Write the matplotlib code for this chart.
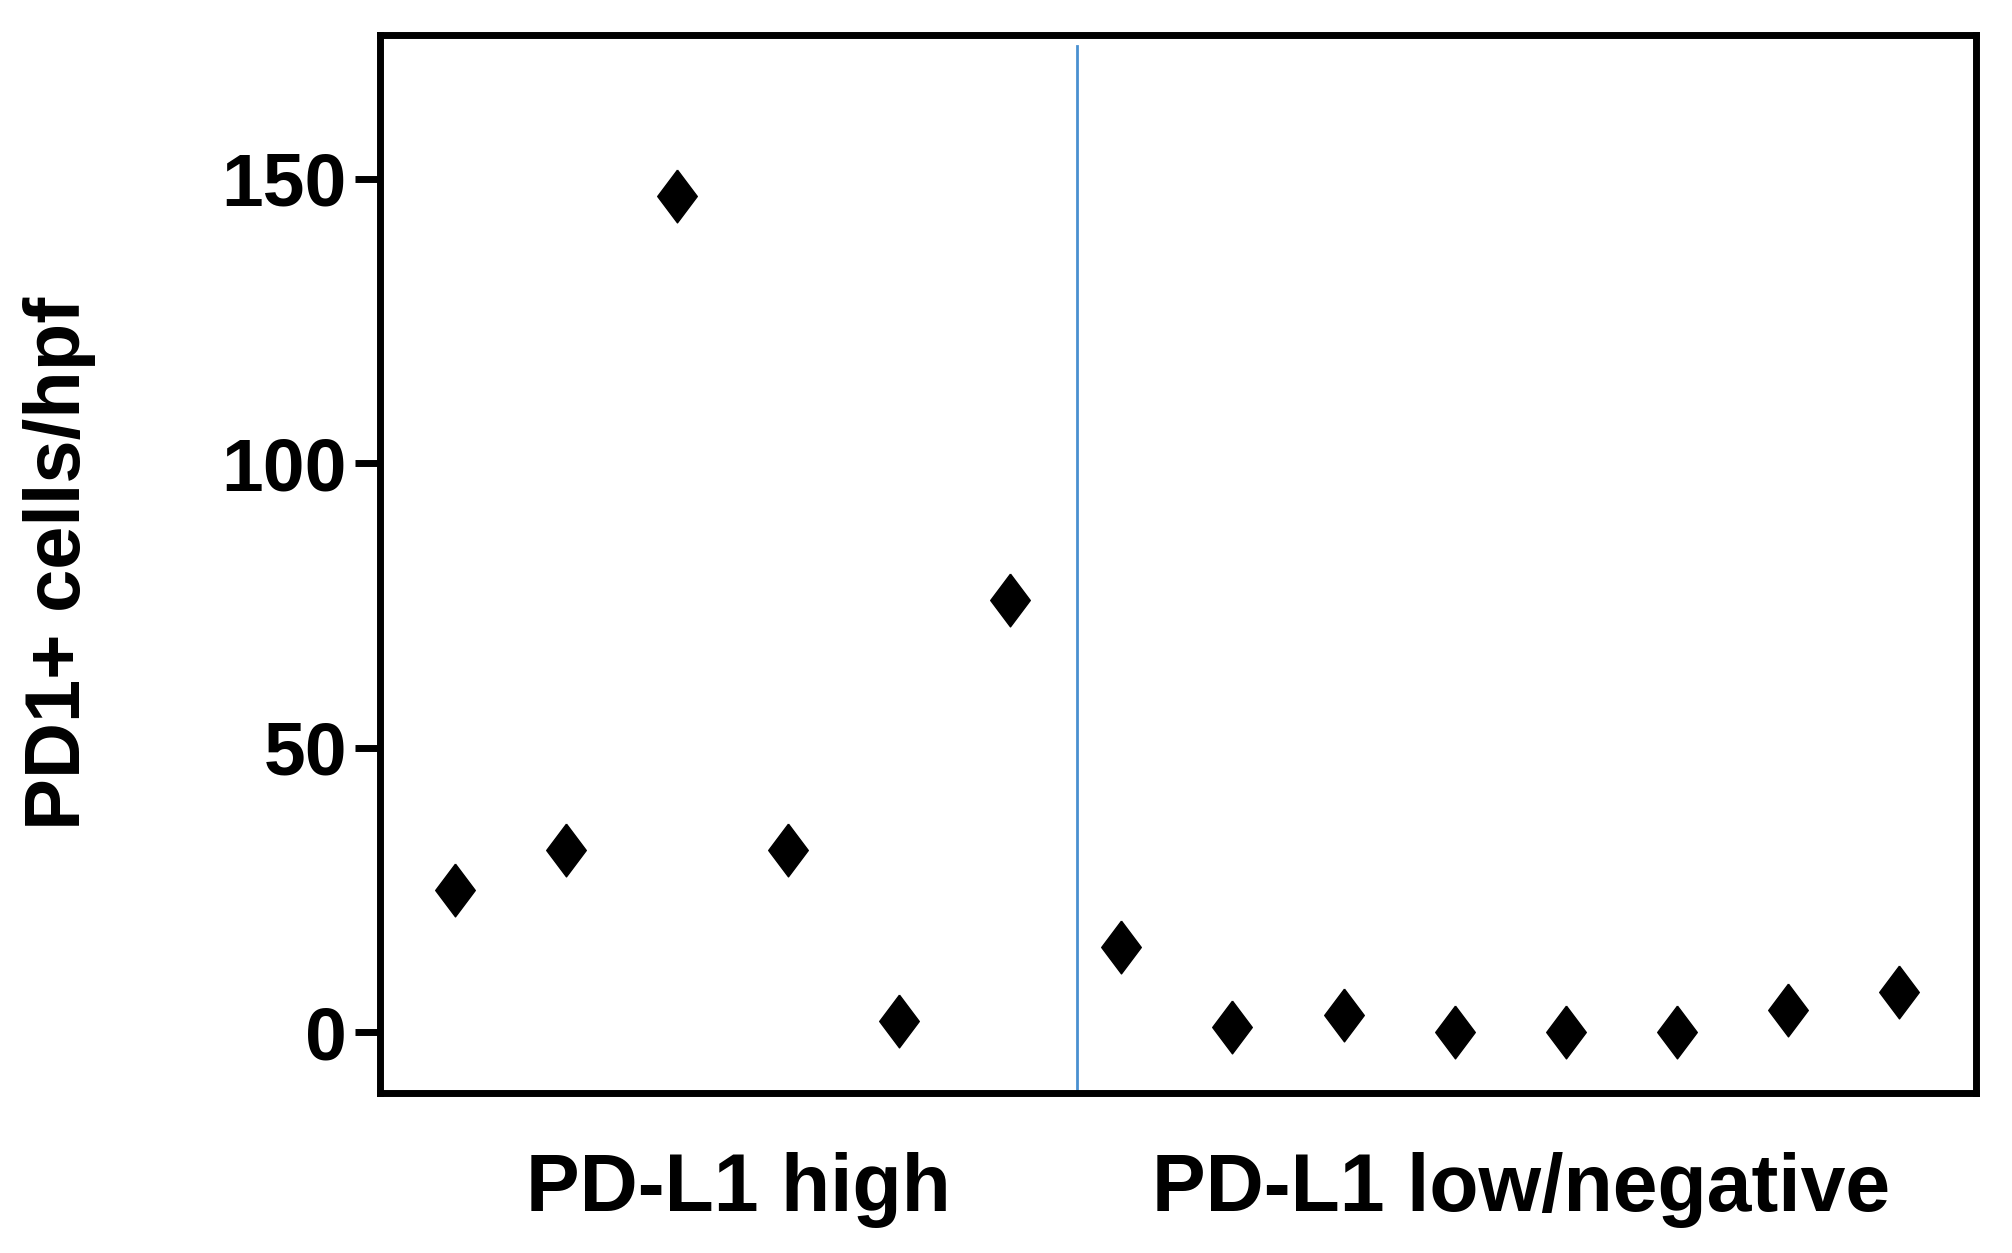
import matplotlib.pyplot as plt
from matplotlib import font_manager

names = {f.name for f in font_manager.fontManager.ttflist}
fam = 'Liberation Sans Narrow' if 'Liberation Sans Narrow' in names else 'Liberation Sans'
plt.rcParams['font.family'] = [fam, 'DejaVu Sans']

# data
high_vals = [25, 32, 147, 32, 2, 76]
low_vals = [15, 1, 3, 0, 0, 0, 4, 7]
group_labels = ['PD-L1 high', 'PD-L1 low/negative']
yticks = [0, 50, 100, 150]
divider = 6.6

fig = plt.figure(figsize=(20.12, 12.53), dpi=100)
ax = fig.add_axes([0.189, 0.128, 0.793, 0.844])

diamond = [(0, 1), (0.75, 0), (0, -1), (-0.75, 0), (0, 1)]
xs = list(range(1, len(high_vals) + len(low_vals) + 1))
ax.plot(xs, high_vals + low_vals, linestyle='none', marker=diamond,
        ms=38, color='black', mec='black')

ax.axvline(divider, ymin=0, ymax=0.99, color='#4a90d0', lw=2)

ax.set_xlim(0.33, 14.69)
ax.set_ylim(-10.6, 175.2)
ax.set_yticks(yticks)
ax.set_yticklabels([str(t) for t in yticks], fontsize=54, fontweight='bold')
ax.set_xticks([])
ax.tick_params(axis='y', length=18, width=5, pad=6)
for s in ax.spines.values():
    s.set_linewidth(5)

ax.set_ylabel('PD1+ cells/hpf', fontsize=56, fontweight='bold', labelpad=90)

centers = [3.55, 10.6]
for c, lab in zip(centers, group_labels):
    ax.text(c, -21, lab, ha='center', va='top', fontsize=58,
            fontweight='bold', transform=ax.transData)

fig.savefig('out.png', dpi=100)
